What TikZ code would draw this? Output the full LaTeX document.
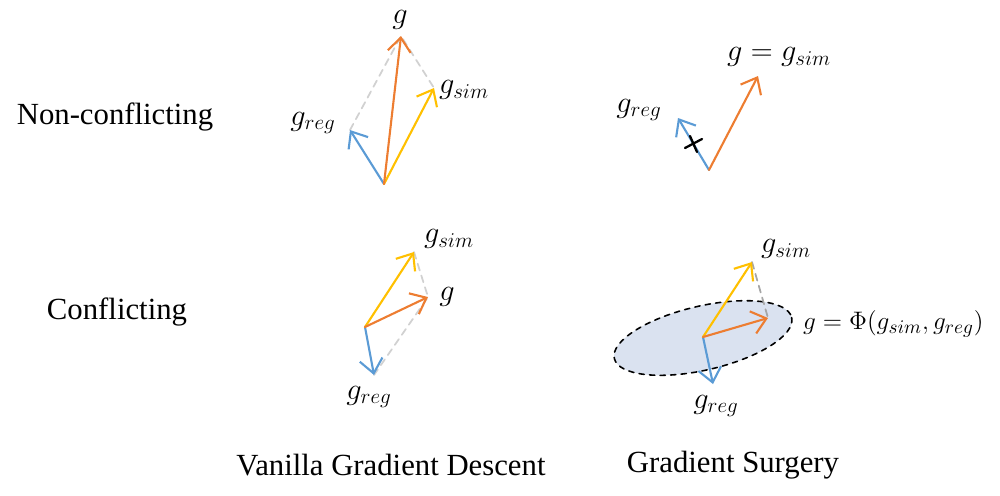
\documentclass[tikz,border=0pt]{standalone}
\usepackage{fontspec}
\setmainfont{Liberation Serif}
\usetikzlibrary{arrows.meta}
\definecolor{gorange}{RGB}{237,125,49}
\definecolor{gyellow}{RGB}{255,192,0}
\definecolor{gblue}{RGB}{91,155,213}
\definecolor{gfill}{RGB}{218,226,240}
\begin{document}
\begin{tikzpicture}[x=0.02cm,y=-0.02cm,line join=round,line cap=round,
	vec/.style={line width=1.2pt,-{Straight Barb[length=2.8mm,width=4.6mm,line width=1.2pt]}},
	para/.style={dashed,line width=1pt,dash pattern=on 4pt off 3pt},
	lab/.style={font=\fontsize{17.5}{20}\selectfont},
	mlab/.style={font=\fontsize{18}{21}\selectfont,inner sep=1pt}]
	\useasboundingbox (0,0) rectangle (1000,495);
	\node[lab] (nc) at (115,117) {Non-conflicting};
	\node[lab] (cf) at (117,312) {Conflicting};
	\node[lab] (vgd) at (391,465) {Vanilla Gradient Descent};
	\node[lab] (gs) at (733,465) {Gradient Surgery};
	\coordinate (o1) at (384,184);
	\coordinate (g1) at (401,36);
	\coordinate (s1) at (434,88);
	\coordinate (r1) at (350,130);
	\draw[para,black!18] (r1) -- (g1) -- (s1);
	\draw[vec,gblue] (o1) -- (r1);
	\draw[vec,gyellow] (o1) -- (s1);
	\draw[vec,gorange] (o1) -- (g1);
	\node[mlab] (g1l) at (400,20) {$g$};
	\node[mlab] (s1l) at (464,90) {$g_{sim}$};
	\node[mlab] (r1l) at (313,123) {$g_{reg}$};
	\coordinate (o2) at (709,170);
	\coordinate (g2) at (758,76);
	\coordinate (r2) at (678,118);
	\draw[vec,gblue] (o2) -- (r2);
	\draw[vec,gorange] (o2) -- (g2);
	\draw[line width=1.3pt,black] (685,148) -- (702,139) (690,136) -- (697,152);
	\node[mlab] (g2l) at (779,57) {$g=g_{sim}$};
	\node[mlab] (r2l) at (639,110) {$g_{reg}$};
	\coordinate (o3) at (365,327);
	\coordinate (s3) at (414,252);
	\coordinate (g3) at (428,297);
	\coordinate (r3) at (374,375);
	\draw[para,black!18] (s3) -- (g3) -- (r3);
	\draw[vec,gblue] (o3) -- (r3);
	\draw[vec,gyellow] (o3) -- (s3);
	\draw[vec,gorange] (o3) -- (g3);
	\node[mlab] (s3l) at (449,239) {$g_{sim}$};
	\node[mlab] (g3l) at (447,297) {$g$};
	\node[mlab] (r3l) at (369,397) {$g_{reg}$};
	\coordinate (o4) at (703,337);
	\coordinate (s4) at (752,262);
	\coordinate (g4) at (768,318);
	\coordinate (r4) at (713,384);
	\draw[fill=gfill,draw=black,dashed,line width=0.9pt] (703,338) ellipse[x radius=91,y radius=32,rotate=13];
	\draw[para,black!35] (s4) -- (g4);
	\draw[vec,gblue] (o4) -- (r4);
	\draw[vec,gyellow] (o4) -- (s4);
	\draw[vec,gorange] (o4) -- (g4);
	\node[mlab] (s4l) at (786,249) {$g_{sim}$};
	\node[mlab,anchor=west,font=\fontsize{15.5}{18}\selectfont] (g4l) at (801,324) {$g=\Phi(g_{sim},g_{reg})$};
	\node[mlab] (r4l) at (716,406) {$g_{reg}$};
\end{tikzpicture}
\end{document}
